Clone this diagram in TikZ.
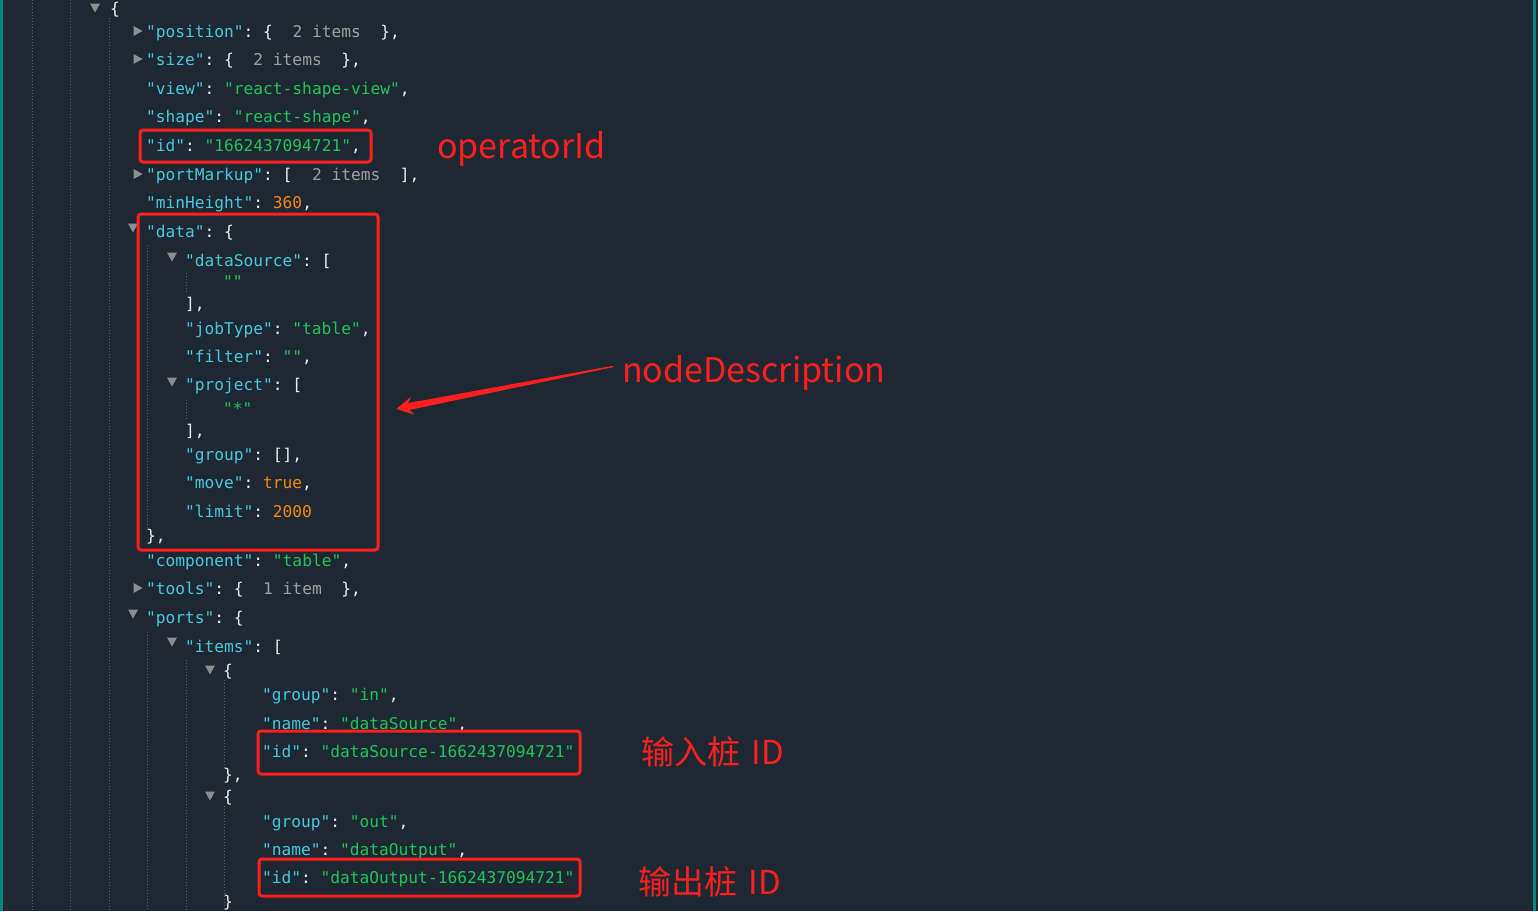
\documentclass[tikz,border=0pt]{standalone}
\usepackage{fontspec}
\usetikzlibrary{calc}
\newfontfamily\codefont{DejaVu Sans Mono}
\newfontfamily\labelfont{Noto Sans CJK SC}
\definecolor{bgc}{RGB}{30,40,51}
\definecolor{keyc}{HTML}{48C8DC}
\definecolor{strc}{HTML}{1EC45A}
\definecolor{numc}{HTML}{F58A0C}
\definecolor{puncc}{HTML}{EDEDED}
\definecolor{grayc}{HTML}{A0A0A0}
\definecolor{tric}{HTML}{8E8E8E}
\definecolor{guidec}{HTML}{5A6370}
\definecolor{annc}{HTML}{FF1F1F}
\definecolor{tealc}{HTML}{00897B}
\newcommand\jk[1]{\textcolor{keyc}{"#1"}}
\newcommand\js[1]{\textcolor{strc}{"#1"}}
\newcommand\jn[1]{\textcolor{numc}{#1}}
\newcommand\jg[1]{\textcolor{grayc}{#1}}
\newcommand\tdn[2]{\fill[tric] (#1-5,#2-4.5) -- (#1+5,#2-4.5) -- (#1,#2+4.5) -- cycle;}
\newcommand\trt[2]{\fill[tric] (#1-4.5,#2-5) -- (#1+4.5,#2) -- (#1-4.5,#2+5) -- cycle;}
\begin{document}
\begin{tikzpicture}[x=1pt,y=-1pt,
  code/.style={anchor=base west, inner sep=0pt, text=puncc,
    font=\codefont\fontsize{16.2}{18}\selectfont\frenchspacing},
  guide/.style={guidec, line width=1pt, dotted},
  redbox/.style={draw=annc, line width=3pt, rounded corners=3pt},
  lab/.style={anchor=base west, inner sep=0pt, text=annc}]
\useasboundingbox (0,0) rectangle (1538,911);
\fill[bgc] (0,0) rectangle (1538,911);
\fill[tealc] (0,0) rectangle (3,911);
\fill[tealc] (1533,0) rectangle (1536,911);
\fill[black!85] (1536,0) rectangle (1538,911);
% guides
\draw[guide] (32,0) -- (32,911);
\draw[guide] (70,0) -- (70,911);
\draw[guide] (109,18) -- (109,911);
\draw[guide] (147,245) -- (147,528);
\draw[guide] (147,632) -- (147,911);
\draw[guide] (186,273) -- (186,294);
\draw[guide] (186,400) -- (186,420);
\draw[guide] (186,660) -- (186,911);
\draw[guide] (224,680) -- (224,770);
\draw[guide] (224,806) -- (224,911);
% toggles
\tdn{95}{8}
\trt{138}{31}
\trt{138}{59}
\trt{138}{174}
\tdn{133}{228}
\tdn{172}{257}
\tdn{172}{382}
\trt{138}{588}
\tdn{133}{614}
\tdn{172}{642}
\tdn{210}{670}
\tdn{210}{796}
% code lines
\node[code] (l1) at (110,14) {\{};
\node[code] (l2) at (146,37) {\jk{position}: \{~~\jg{2 items}~~\},};
\node[code] (l3) at (146,65) {\jk{size}: \{~~\jg{2 items}~~\},};
\node[code] (l4) at (146,94) {\jk{view}: \js{react-shape-view},};
\node[code] (l5) at (146,122) {\jk{shape}: \js{react-shape},};
\node[code] (l6) at (146,151) {\jk{id}: \js{1662437094721},};
\node[code] (l7) at (146,180) {\jk{portMarkup}: [~~\jg{2 items}~~],};
\node[code] (l8) at (146,208) {\jk{minHeight}: \jn{360},};
\node[code] (l9) at (146,237) {\jk{data}: \{};
\node[code] (l10) at (185,266) {\jk{dataSource}: [};
\node[code] (l11) at (223,287) {\js{}};
\node[code] (l12) at (185,309) {],};
\node[code] (l13) at (185,334) {\jk{jobType}: \js{table},};
\node[code] (l14) at (185,362) {\jk{filter}: \js{},};
\node[code] (l15) at (185,390) {\jk{project}: [};
\node[code] (l16) at (223,414) {\js{*}};
\node[code] (l17) at (185,436) {],};
\node[code] (l18) at (185,460) {\jk{group}: [],};
\node[code] (l19) at (185,488) {\jk{move}: \jn{true},};
\node[code] (l20) at (185,517) {\jk{limit}: \jn{2000}};
\node[code] (l21) at (146,541) {\},};
\node[code] (l22) at (146,566) {\jk{component}: \js{table},};
\node[code] (l23) at (146,594) {\jk{tools}: \{~~\jg{1 item}~~\},};
\node[code] (l24) at (146,623) {\jk{ports}: \{};
\node[code] (l25) at (185,652) {\jk{items}: [};
\node[code] (l26) at (223,676) {\{};
\node[code] (l27) at (262,700) {\jk{group}: \js{in},};
\node[code] (l28) at (262,729) {\jk{name}: \js{dataSource},};
\node[code] (l29) at (262,757) {\jk{id}: \js{dataSource-1662437094721}};
\node[code] (l30) at (223,780) {\},};
\node[code] (l31) at (223,802) {\{};
\node[code] (l32) at (262,827) {\jk{group}: \js{out},};
\node[code] (l33) at (262,855) {\jk{name}: \js{dataOutput},};
\node[code] (l34) at (262,883) {\jk{id}: \js{dataOutput-1662437094721}};
\node[code] (l35) at (223,907) {\}};
% red boxes
\draw[redbox] (140,130) rectangle (371,162);
\node[redbox, minimum width=240pt, minimum height=336pt, inner sep=0pt] (boxdata) at (258,382) {};
\draw[redbox] (258,731) rectangle (580,774);
\draw[redbox] (259,859) rectangle (580,896);
% labels
\node[lab, font=\labelfont\fontsize{34}{40}\selectfont] (opid) at (437,158) {operatorId};
\node[lab, font=\labelfont\fontsize{34}{40}\selectfont] (desc) at (622,382) {nodeDescription};
\node[lab, font=\labelfont\fontsize{33}{38}\selectfont] (inid) at (641,764) {输入桩\hspace{4pt} ID};
\node[lab, font=\labelfont\fontsize{33}{38}\selectfont] (outid) at (638,894) {输出桩\hspace{4pt} ID};
% arrow
\coordinate (atail) at (613,366.5);
\coordinate (ahead) at (396,409);
\fill[annc] (ahead)
  -- ($($(ahead)!17pt!(atail)$)!9pt!90:(atail)$)
  -- ($($(ahead)!13pt!(atail)$)!3.5pt!90:(atail)$)
  -- ($(atail)!0.7pt!-90:(ahead)$)
  -- ($(atail)!0.7pt!90:(ahead)$)
  -- ($($(ahead)!13pt!(atail)$)!3.5pt!-90:(atail)$)
  -- ($($(ahead)!17pt!(atail)$)!9pt!-90:(atail)$)
  -- cycle;
\end{tikzpicture}
\end{document}
